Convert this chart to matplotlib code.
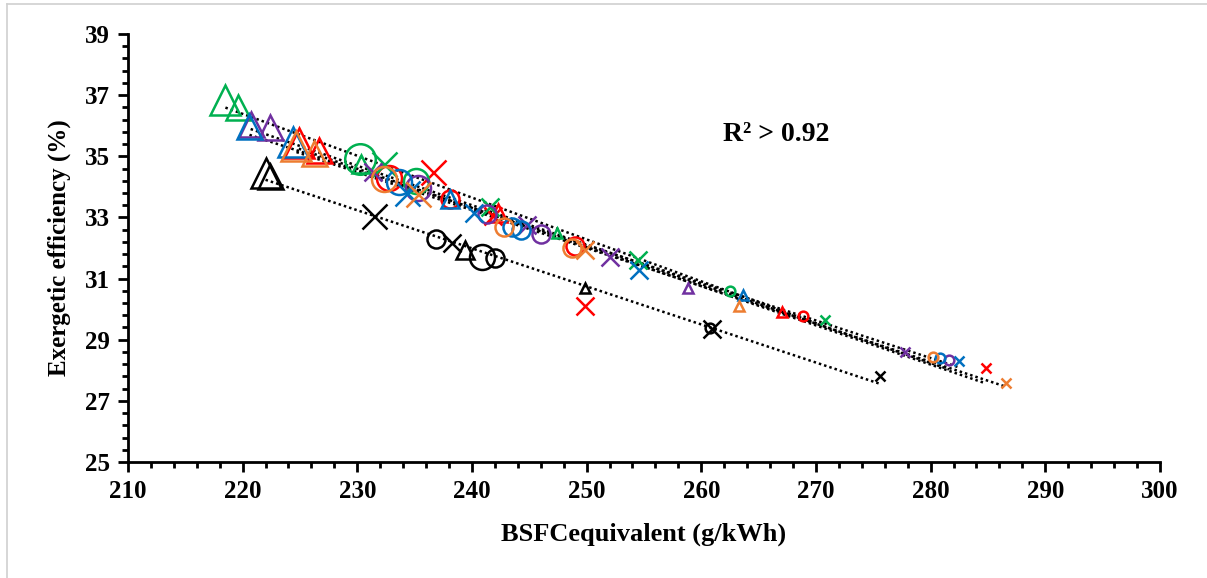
import numpy as np
import matplotlib.pyplot as plt
from matplotlib.ticker import FixedLocator
from matplotlib.lines import Line2D

# BSFC equivalent (g/kWh), exergetic efficiency (%), marker type, size class
bsfc_black = [222.0, 222.4, 239.4, 249.85, 236.9, 240.9, 242.0, 260.8, 231.5, 238.3, 260.9, 275.6]
eff_black = [34.45, 34.35, 31.93, 30.69, 32.30, 31.70, 31.67, 29.38, 33.05, 32.15, 29.35, 27.80]
mk_black = ['^', '^', '^', '^', 'o', 'o', 'o', 'o', 'x', 'x', 'x', 'x']
sz_black = [4, 3, 2, 1, 2, 3, 2, 1, 3, 2, 2, 1]

bsfc_red = [224.9, 226.7, 242.3, 267.0, 232.8, 238.1, 249.0, 268.9, 236.6, 241.8, 249.85, 284.8]
eff_red = [35.45, 35.20, 33.15, 29.90, 34.30, 33.60, 32.05, 29.78, 34.50, 33.05, 30.10, 28.07]
mk_red = ['^', '^', '^', '^', 'o', 'o', 'o', 'o', 'x', 'x', 'x', 'x']
sz_red = [4, 3, 2, 1, 3, 2, 2, 1, 3, 2, 2, 1]

bsfc_green = [218.5, 219.6, 230.3, 247.4, 230.2, 235.1, 262.5, 232.3, 241.6, 254.5, 270.8]
eff_green = [36.85, 36.60, 34.75, 32.50, 34.90, 34.20, 30.60, 34.75, 33.35, 31.60, 29.65]
mk_green = ['^', '^', '^', '^', 'o', 'o', 'o', 'x', 'x', 'x', 'x']
sz_green = [4, 3, 2, 1, 4, 3, 1, 3, 2, 2, 1]

bsfc_purple = [220.7, 222.4, 258.8, 235.3, 241.3, 246.0, 281.6, 231.4, 244.8, 252.0, 277.8]
eff_purple = [36.05, 35.95, 30.70, 33.95, 33.10, 32.45, 28.34, 34.50, 32.75, 31.70, 28.60]
mk_purple = ['^', '^', '^', 'o', 'o', 'o', 'o', 'x', 'x', 'x', 'x']
sz_purple = [3, 3, 1, 3, 2, 2, 1, 2, 2, 2, 1]

bsfc_blue = [220.6, 224.4, 238.1, 263.6, 233.6, 243.5, 244.3, 280.8, 234.3, 240.2, 254.6, 282.5]
eff_blue = [36.00, 35.47, 33.60, 30.45, 34.15, 32.70, 32.60, 28.40, 33.80, 33.15, 31.28, 28.30]
mk_blue = ['^', '^', '^', '^', 'o', 'o', 'o', 'o', 'x', 'x', 'x', 'x']
sz_blue = [3, 4, 2, 1, 3, 2, 2, 1, 3, 2, 2, 1]

bsfc_orange = [224.7, 226.2, 263.3, 232.3, 242.8, 248.7, 280.2, 235.3, 249.9, 286.6]
eff_orange = [35.35, 35.10, 30.10, 34.25, 32.70, 32.00, 28.43, 33.75, 31.95, 27.60]
mk_orange = ['^', '^', '^', 'o', 'o', 'o', 'o', 'x', 'x', 'x']
sz_orange = [4, 3, 1, 3, 2, 2, 1, 3, 2, 1]

series = [
    (bsfc_black, eff_black, mk_black, sz_black, 'black'),
    (bsfc_red, eff_red, mk_red, sz_red, '#FF0000'),
    (bsfc_green, eff_green, mk_green, sz_green, '#00B050'),
    (bsfc_purple, eff_purple, mk_purple, sz_purple, '#7030A0'),
    (bsfc_blue, eff_blue, mk_blue, sz_blue, '#0070C0'),
    (bsfc_orange, eff_orange, mk_orange, sz_orange, '#ED7D31'),
]

# marker size in points per size class
msize = {1: 7, 2: 13, 3: 18, 4: 22}

plt.rcParams['font.family'] = 'Liberation Serif'
plt.rcParams['font.weight'] = 'bold'

fig = plt.figure(figsize=(12.07, 5.78), dpi=100)
ax = fig.add_axes([0.106, 0.2007, 0.855, 0.7405])

for xs, ys, mks, szs, col in series:
    # linear trendline (dotted, black)
    k, d = np.polyfit(xs, ys, 1)
    xl = np.array([min(xs), max(xs)])
    ax.plot(xl, k * xl + d, color='black', linestyle=(0, (1, 1.2)), linewidth=1.8, zorder=1)
    for x, y, m, s in zip(xs, ys, mks, szs):
        ax.plot(x, y, marker=m, markersize=msize[s], markerfacecolor='none',
                markeredgecolor=col, markeredgewidth=1.8, linestyle='none', zorder=2)

ax.text(266.5, 35.7, 'R² > 0.92', fontsize=20, fontweight='bold', ha='center', va='center')

ax.set_xlim(210, 300)
ax.set_ylim(25, 39)
ax.xaxis.set_major_locator(FixedLocator(np.arange(210, 301, 10)))
ax.xaxis.set_minor_locator(FixedLocator(np.arange(210, 301, 2)))
ax.yaxis.set_major_locator(FixedLocator(np.arange(25, 40, 2)))
ax.yaxis.set_minor_locator(FixedLocator(np.arange(25, 39.01, 0.4)))
ax.spines['top'].set_visible(False)
ax.spines['right'].set_visible(False)
ax.spines['left'].set_linewidth(2)
ax.spines['bottom'].set_linewidth(2)
ax.tick_params(which='major', direction='out', length=7, width=2, labelsize=18, pad=6)
ax.tick_params(which='minor', direction='out', length=4, width=2)
for lab in ax.get_xticklabels() + ax.get_yticklabels():
    lab.set_fontweight('bold')
ax.set_xlabel('BSFCequivalent (g/kWh)', fontsize=19, fontweight='bold', labelpad=14)
ax.set_ylabel('Exergetic efficiency (%)', fontsize=18, fontweight='bold', labelpad=10)

# gray frame lines at left and top of the image
fig.add_artist(Line2D([7 / 1207, 7 / 1207], [0, 1 - 4 / 578], color='#d0d0d0', linewidth=1.2))
fig.add_artist(Line2D([7 / 1207, 1], [1 - 4 / 578, 1 - 4 / 578], color='#d0d0d0', linewidth=1.2))

fig.savefig('out.png', dpi=100)
